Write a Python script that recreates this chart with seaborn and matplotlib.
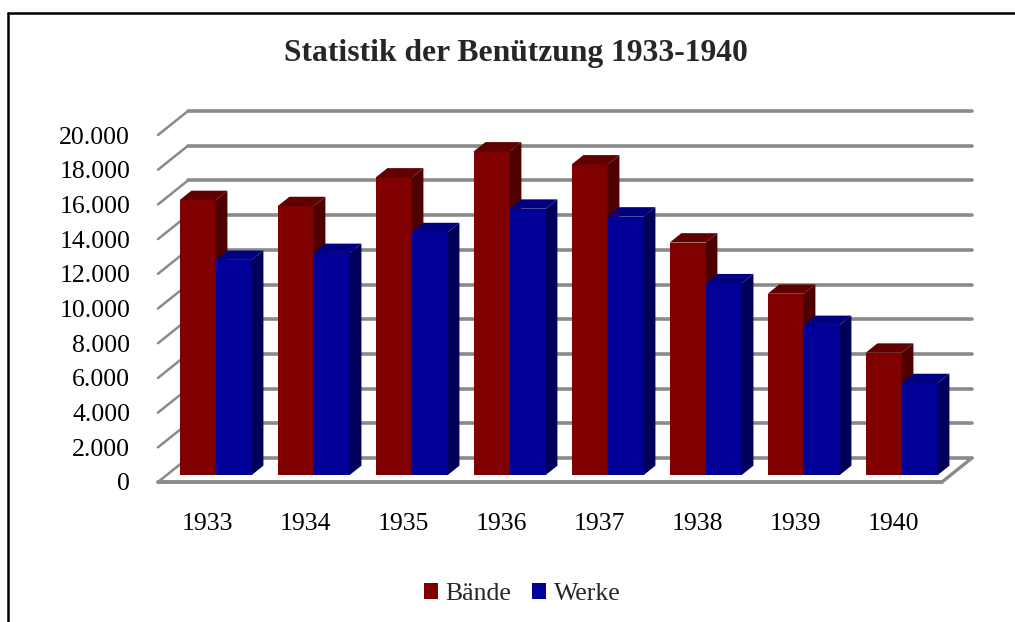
import pandas as pd
import seaborn as sns
import matplotlib.pyplot as plt
import matplotlib.transforms as mtransforms
from matplotlib.patches import Polygon, Patch
from matplotlib.lines import Line2D
from matplotlib.ticker import FuncFormatter

# data
years = ['1933', '1934', '1935', '1936', '1937', '1938', '1939', '1940']
baende = [15850, 15500, 17150, 18650, 17900, 13400, 10450, 7050]
werke = [12400, 12800, 14000, 15350, 14900, 11050, 8650, 5300]
series_names = ['Bände', 'Werke']
y_ticks = list(range(0, 20001, 2000))

front_colors = ['#800000', '#000099']
side_colors = ['#4e0000', '#00005a']
top_colors = ['#600000', '#000080']
grid_color = '#8a8a8a'

sns.set_style('white')
plt.rcParams['font.family'] = ['Liberation Serif', 'DejaVu Serif']

W, H = 1015, 622
fig = plt.figure(figsize=(W / 100, H / 100), dpi=100)

# front plane of the 3d box (pixels)
left, right, bottom0, top_v = 158, 942, 482, 135
ax = fig.add_axes([left / W, 1 - bottom0 / H, (right - left) / W, (bottom0 - top_v) / H])
ax.set_xlim(-0.5, len(years) - 0.5)
ax.set_ylim(0, y_ticks[-1])
ax.patch.set_alpha(0)
for s in ax.spines.values():
    s.set_visible(False)

px_x = (right - left) / len(years)
px_y = (bottom0 - top_v) / y_ticks[-1]


def depth(d):
    # oblique offset (data units) for a depth fraction d of the box
    return d * 30 / px_x, d * 24 / px_y


df = pd.DataFrame({
    'Jahr': years * 2,
    'Wert': baende + werke,
    'Reihe': [series_names[0]] * len(years) + [series_names[1]] * len(years),
})
sns.barplot(data=df, x='Jahr', y='Wert', hue='Reihe', palette=front_colors,
            width=0.735, saturation=1, legend=False, linewidth=0, ax=ax)

# turn the flat bars into 3d columns
d_front, d_back = 0.29, 0.68
fx, fy = depth(d_front)
bx, by = depth(d_back)
for k, cont in enumerate(ax.containers):
    for bar in cont:
        x0, w, h = bar.get_x(), bar.get_width(), bar.get_height()
        z = 3 + x0 * 0.1
        bar.set_transform(mtransforms.Affine2D().translate(fx, fy) + ax.transData)
        bar.set_zorder(z)
        bar.set_clip_on(False)
        xr = x0 + w
        side = Polygon([(xr + fx, fy), (xr + bx, by), (xr + bx, h + by), (xr + fx, h + fy)],
                       closed=True, facecolor=side_colors[k], edgecolor='none', zorder=z, clip_on=False)
        top = Polygon([(x0 + fx, h + fy), (xr + fx, h + fy), (xr + bx, h + by), (x0 + bx, h + by)],
                      closed=True, facecolor=top_colors[k], edgecolor='none', zorder=z, clip_on=False)
        ax.add_patch(side)
        ax.add_patch(top)

# back wall gridlines, side wall diagonals and floor
wx, wy = depth(1)
x_lo, x_hi = -0.5, len(years) - 0.5
for v in y_ticks:
    ax.plot([x_lo + wx, x_hi + wx], [v + wy, v + wy], color=grid_color, lw=2.6, zorder=1, clip_on=False)
    ax.plot([x_lo, x_lo + wx], [v, v + wy], color=grid_color, lw=1.8, zorder=1, clip_on=False)
ax.plot([x_lo, x_hi], [0, 0], color=grid_color, lw=2.8, zorder=1, clip_on=False)
ax.plot([x_hi, x_hi + wx], [0, wy], color=grid_color, lw=2.4, zorder=1, clip_on=False)

ax.set_yticks(y_ticks)
ax.yaxis.set_major_formatter(FuncFormatter(lambda v, p: f'{int(v):,}'.replace(',', '.')))
ax.set_xlabel('')
ax.set_ylabel('')
ax.tick_params(axis='both', length=0, labelsize=18.5, colors='black')
ax.tick_params(axis='y', pad=20)
ax.tick_params(axis='x', pad=22.5)

fig.text(516 / W, 1 - 53 / H, 'Statistik der Benützung 1933-1940', ha='center', va='center',
         fontsize=22.8, fontweight='bold')

handles = [Patch(facecolor=c, edgecolor='none', label=n) for c, n in zip(front_colors, series_names)]
fig.legend(handles=handles, loc='center', bbox_to_anchor=(522 / W, 1 - 594 / H), ncol=2,
           frameon=False, fontsize=18.5, handlelength=0.55, handleheight=0.55,
           handletextpad=0.3, columnspacing=0.8, borderaxespad=0)

# chart area border (left and top edges visible)
fig.add_artist(Line2D([8 / W, 8 / W], [0, 1 - 13 / H], color='black', lw=1.8, transform=fig.transFigure))
fig.add_artist(Line2D([8 / W, 1], [1 - 13 / H, 1 - 13 / H], color='black', lw=1.8, transform=fig.transFigure))

fig.savefig('out.png', dpi=100)
